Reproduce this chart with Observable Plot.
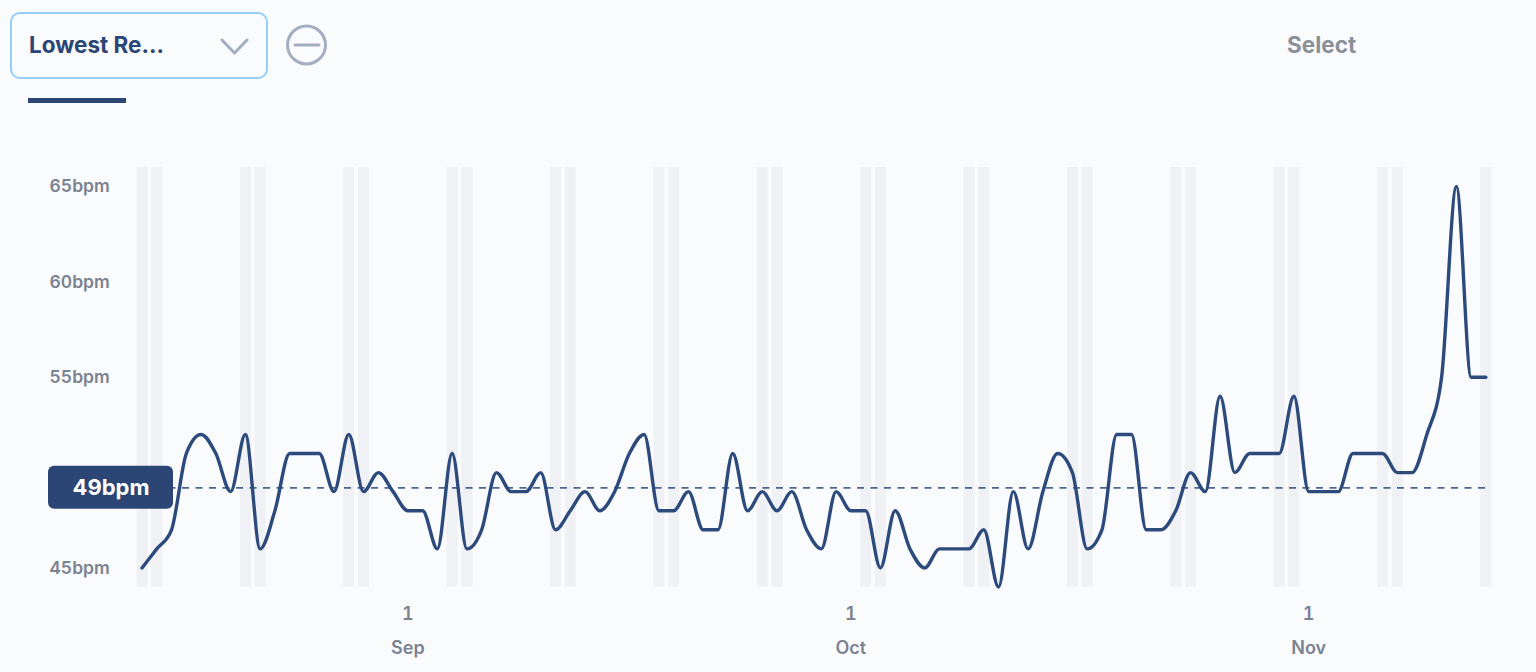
<!DOCTYPE html>
<html>
<head>
<meta charset="utf-8">
<script src="https://cdn.jsdelivr.net/npm/d3@7"></script>
<script src="https://cdn.jsdelivr.net/npm/@observablehq/plot@0.6"></script>
<style>
  html, body { margin: 0; padding: 0; background: #fafbfd; width: 1536px; height: 672px; overflow: hidden; font-family: Inter, sans-serif; }
  #header { position: relative; width: 1536px; height: 130px; }
  #header > * { position: absolute; box-sizing: border-box; }
  #select { left: 10px; top: 12px; width: 258px; height: 67px; border: 2px solid #93cffa; border-radius: 10px; }
  #selectText { left: 29px; top: 30px; font-size: 22.5px; line-height: 30px; font-weight: 700; color: #2b4575; white-space: nowrap; }
  #icons { left: 0; top: 0; }
  #underline { left: 28px; top: 98px; width: 98px; height: 5px; background: #2b4575; }
  #selectRight { left: 1287px; top: 30px; font-size: 22.5px; line-height: 30px; font-weight: 700; color: #8b9098; }
  #chart { position: absolute; left: 0; top: 130px; }
  svg { display: block; }
</style>
</head>
<body>
<div id="header">
  <div id="select"></div>
  <div id="selectText">Lowest Re...</div>
  <svg id="icons" width="340" height="90" fill="none" stroke="#a3aec2" stroke-width="3" stroke-linecap="round" stroke-linejoin="round">
    <path d="M222 40 L234.500 53 L247 40"></path>
    <circle cx="306.500" cy="45" r="19"></circle>
    <path d="M295 45 H319"></path>
  </svg>
  <div id="underline"></div>
  <div id="selectRight">Select</div>
</div>
<div id="chart"></div>
<script>
const startDate = "2021-08-14";
const dailyBpm = [
  45, 46, 47, 51, 52, 51, 49, 52, 46, 48, 51, 51, 51, 49, 52, 49, 50, 49, 48, 48,
  46, 51, 46, 47, 50, 49, 49, 50, 47, 48, 49, 48, 49, 51, 52, 48, 48, 49, 47, 47,
  51, 48, 49, 48, 49, 47, 46, 49, 48, 48, 45, 48, 46, 45, 46, 46, 46, 47, 44, 49,
  46, 49, 51, 50, 46, 47, 52, 52, 47, 47, 48, 50, 49, 54, 50, 51, 51, 51, 54, 49,
  49, 49, 51, 51, 51, 50, 50, 52, 55, 65, 55, 55
];
const averageBpm = 49.2;
const averageLabel = "49bpm";
const yTicks = [45, 55, 60, 65];
const monthStarts = ["2021-09-01", "2021-10-01", "2021-11-01"];

const start = new Date(startDate + "T00:00:00Z");
const rows = dailyBpm.map((bpm, i) => ({ date: d3.utcDay.offset(start, i), bpm }));
const weekends = rows.filter(d => [0, 6].includes(d.date.getUTCDay()));
const months = monthStarts.map(s => new Date(s + "T00:00:00Z"));

const navy = "#2b4575";
const lineBlue = "#2d4a7c";
const grey = "#7b8291";

const plot = Plot.plot({
  width: 1536,
  height: 542,
  marginLeft: 141.5,
  marginRight: 50.6,
  marginTop: 37,
  marginBottom: 85.5,
  style: { background: "transparent", fontFamily: "Inter, sans-serif", fontSize: "17.5px", fontWeight: 600, color: grey },
  x: { type: "utc", domain: [rows[0].date, rows[rows.length - 1].date] },
  y: { domain: [44, 66] },
  marks: [
    Plot.ruleX(weekends, { x: "date", y1: 44, y2: 66, stroke: "#f0f1f5", strokeWidth: 11 }),
    Plot.axisY({ ticks: yTicks, tickSize: 0, textAnchor: "start", dx: -83.5, tickFormat: d => d + "bpm", label: null, fill: grey }),
    Plot.axisX({ ticks: months, tickSize: 0, tickPadding: 20, tickFormat: d3.utcFormat("%-d"), label: null, fill: grey, fontSize: 18 }),
    Plot.axisX({ ticks: months, tickSize: 0, tickPadding: 54, tickFormat: d3.utcFormat("%b"), label: null, fill: grey, fontSize: 18 }),
    Plot.ruleY([averageBpm], { x1: rows[0].date, x2: rows[rows.length - 1].date, stroke: lineBlue, strokeWidth: 1.7, strokeDasharray: "7,6.500", strokeOpacity: 0.85 }),
    Plot.line(rows, { x: "date", y: "bpm", curve: "monotone-x", stroke: lineBlue, strokeWidth: 3.4 }),
    (index, { y }) => {
      const r = document.createElementNS("http://www.w3.org/2000/svg", "rect");
      r.setAttribute("x", 48);
      r.setAttribute("y", y(averageBpm) - 21.5);
      r.setAttribute("width", 125);
      r.setAttribute("height", 43);
      r.setAttribute("rx", 6);
      r.setAttribute("fill", navy);
      return r;
    },
    Plot.text([averageLabel], { frameAnchor: "left", y: [averageBpm], dx: -31, fill: "#ffffff", fontSize: 22, fontWeight: 700, textAnchor: "middle" })
  ]
});
document.getElementById("chart").appendChild(plot);
</script>
</body>
</html>
